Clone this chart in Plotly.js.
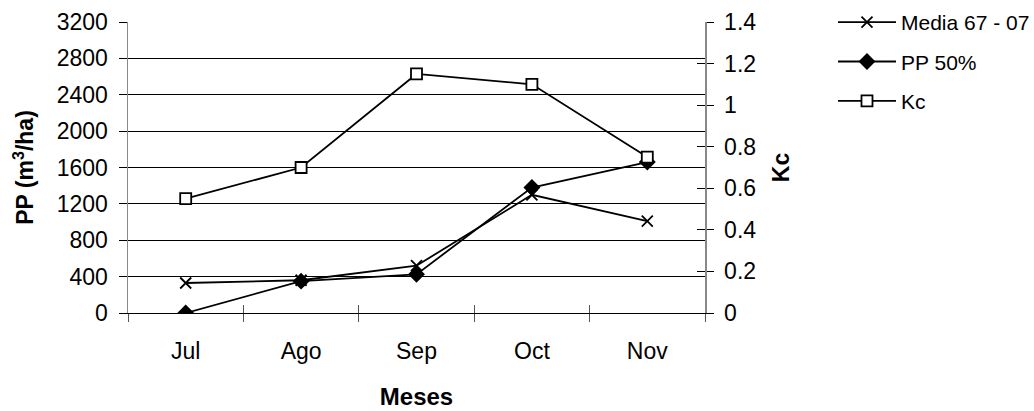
<!DOCTYPE html>
<html>
<head>
<meta charset="utf-8">
<script src="https://cdn.plot.ly/plotly-3.0.1.min.js"></script>
<style>html,body{margin:0;padding:0;background:#fff;}#chart{width:1034px;height:411px;}</style>
</head>
<body>
<div id="chart"></div>
<script>
const months = ["Jul", "Ago", "Sep", "Oct", "Nov"];
const media6707 = [330, 360, 520, 1300, 1010];
const pp50 = [0, 350, 425, 1380, 1660];
const kc = [0.55, 0.70, 1.15, 1.10, 0.75];
const ppTicks = [0, 400, 800, 1200, 1600, 2000, 2400, 2800, 3200];
const ppGrid = [0, 400, 800, 1200, 1600, 2000, 2400, 2800];
const kcTicks = [0, 0.2, 0.4, 0.6, 0.8, 1, 1.2, 1.4];

const FONT = "Arial, 'Liberation Sans', sans-serif";
const FS = 23;
const traces = [
  {x: months, y: media6707, name: "Media 67 - 07", type: "scatter", mode: "lines+markers",
   legendgroup: "a",
   line: {color: "#000", width: 1.8},
   marker: {symbol: "x-thin-open", size: 11, color: "#000", line: {color: "#000", width: 1.8}},
   xaxis: "x", yaxis: "y"},
  {x: months, y: pp50, name: "PP 50%", type: "scatter", mode: "lines+markers",
   legendgroup: "b",
   line: {color: "#000", width: 1.8},
   marker: {symbol: "diamond", size: 13, color: "#000"},
   xaxis: "x", yaxis: "y3"},
  {x: months, y: kc, name: "Kc", type: "scatter", mode: "lines+markers",
   legendgroup: "c",
   line: {color: "#000", width: 1.8},
   marker: {symbol: "square", size: 11, color: "#fff", line: {color: "#000", width: 1.8}},
   xaxis: "x2", yaxis: "y2"},
  // same Kc data, invisible, only so the right-hand inner tick axis is drawn
  {x: months, y: kc, name: "Kc", type: "scatter", mode: "lines", opacity: 0,
   showlegend: false, hoverinfo: "skip", line: {color: "rgba(0,0,0,0)", width: 0},
   xaxis: "x2", yaxis: "y4"}
];

const layout = {
  width: 1034, height: 411,
  margin: {l: 128, r: 329, t: 22, b: 98, autoexpand: false},
  paper_bgcolor: "#fff", plot_bgcolor: "#fff",
  font: {family: FONT, size: FS, color: "#000"},
  showlegend: true,
  legend: {xref: "container", yref: "container", x: 0.8056, y: 0.995,
           xanchor: "left", yanchor: "top",
           font: {family: FONT, size: 21, color: "#000"},
           traceorder: "grouped", tracegroupgap: 9,
           itemwidth: 58, bgcolor: "rgba(0,0,0,0)"},
  xaxis: {type: "category", range: [-0.5, 4.5], tickson: "boundaries", automargin: false,
          ticks: "outside", ticklen: 8, tickcolor: "#555", tickwidth: 1,
          ticklabelstandoff: 17,
          showline: true, linecolor: "#000", linewidth: 1, showgrid: false, zeroline: false,
          tickfont: {size: FS}, anchor: "y",
          title: {text: "<b>Meses</b>", font: {size: 24}, standoff: 25}},
  xaxis2: {type: "category", range: [-0.5, 4.5], tickson: "boundaries", overlaying: "x", automargin: false,
           ticks: "inside", ticklen: 8, tickcolor: "#555", tickwidth: 1,
           showticklabels: false, showline: false, showgrid: false, zeroline: false, anchor: "y"},
  yaxis: {range: [0, 3200], tickvals: ppGrid, ticks: "inside", ticklen: 9, tickcolor: "#000",
          automargin: false,
          showticklabels: false, showline: false, showgrid: true, gridcolor: "#000", gridwidth: 1,
          zeroline: false, anchor: "x"},
  yaxis3: {range: [0, 3200], tickvals: ppTicks, overlaying: "y", anchor: "x", automargin: false,
           ticks: "outside", ticklen: 8, tickcolor: "#000", ticklabelstandoff: 6,
           showline: true, linecolor: "#888", linewidth: 1.5, showgrid: false, zeroline: false,
           tickfont: {size: FS},
           title: {text: "<b>PP (m<sup>3</sup>/ha)</b>", font: {size: FS}, standoff: 16}},
  yaxis2: {range: [0, 1.4], tickvals: kcTicks, overlaying: "y", side: "right", anchor: "x",
           automargin: false,
           ticks: "outside", ticklen: 7, tickcolor: "#000", ticklabelstandoff: 6,
           showline: true, linecolor: "#888", linewidth: 1.5, showgrid: false, zeroline: false,
           tickfont: {size: FS},
           title: {text: "<b>Kc</b>", font: {size: FS}, standoff: 17}},
  yaxis4: {range: [0, 1.4], tickvals: kcTicks, overlaying: "y", side: "right", anchor: "x",
           automargin: false,
           ticks: "inside", ticklen: 8, tickcolor: "#000", showticklabels: false,
           showgrid: false, showline: false, zeroline: false}
};

Plotly.newPlot("chart", traces, layout, {displayModeBar: false, staticPlot: true});
</script>
</body>
</html>
